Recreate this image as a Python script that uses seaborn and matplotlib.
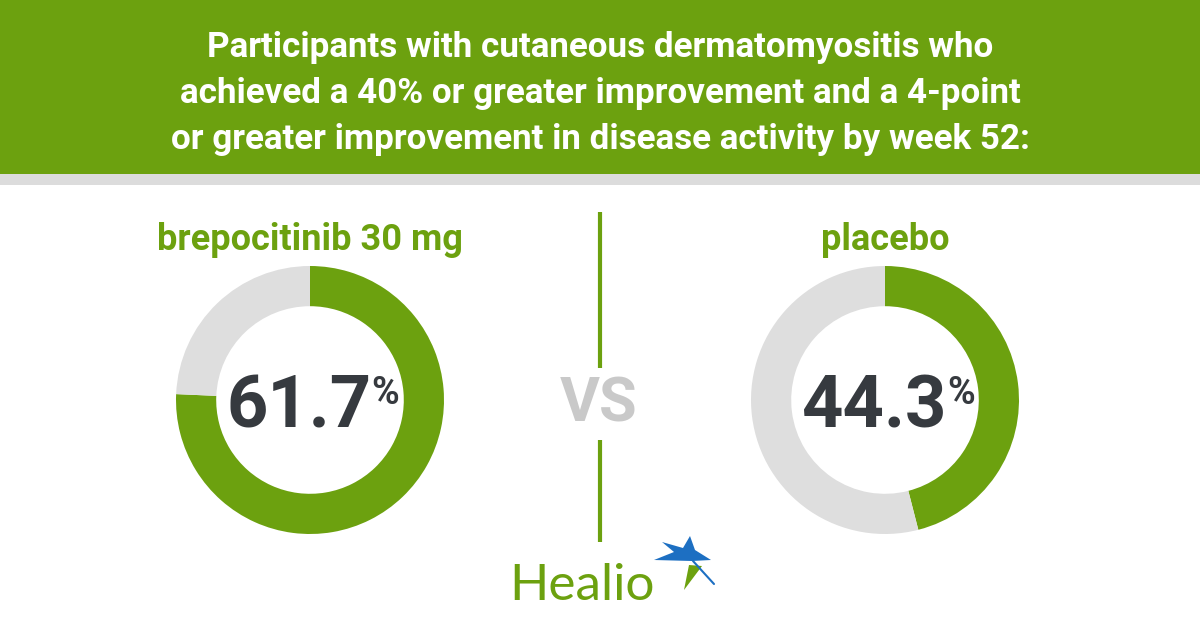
import matplotlib
matplotlib.use("Agg")
import matplotlib.pyplot as plt
import seaborn as sns
from matplotlib.patches import Rectangle, Polygon

# ---- data ----
groups = ["brepocitinib 30 mg", "placebo"]
achieved = [61.7, 44.3]            # printed values (%)
ring_shown = [75.7, 46.0]          # arc share as drawn in the graphic (%)
title_lines = [
    "Participants with cutaneous dermatomyositis who",
    "achieved a 40% or greater improvement and a 4-point",
    "or greater improvement in disease activity by week 52:",
]

GREEN = "#6ca10f"
LIGHT = "#dedede"
DARK = "#363a3f"
VSGRAY = "#c9c9c9"
BLUE = "#1d6fc2"

sns.set_theme(style="white")
plt.rcParams["font.family"] = ["Roboto", "DejaVu Sans"]

W, H = 1200, 630
fig = plt.figure(figsize=(12, 6.3), dpi=100)
bg = fig.add_axes([0, 0, 1, 1])
bg.set_xlim(0, W)
bg.set_ylim(H, 0)
bg.axis("off")

# header
bg.add_patch(Rectangle((0, 0), W, 174, color=GREEN, lw=0))
bg.add_patch(Rectangle((0, 174), W, 11, color="#dcdcdc", lw=0))
for i, line in enumerate(title_lines):
    bg.text(600, 47 + i * 46.5, line, ha="center", va="center", color="white",
            fontsize=25.2, fontweight="bold")

# divider and vs
bg.plot([600, 600], [212, 368], color=GREEN, lw=3, solid_capstyle="butt")
bg.plot([600, 600], [440, 542], color=GREEN, lw=3, solid_capstyle="butt")
bg.text(599, 404, "VS", ha="center", va="center", color=VSGRAY,
        fontsize=44, fontweight="bold")

fig.canvas.draw()
renderer = fig.canvas.get_renderer()

centers = [310, 885]
R = 134
for cx, name, val, shown in zip(centers, groups, achieved, ring_shown):
    ax = fig.add_axes([(cx - R) / W, (H - 400 - R) / H, 2 * R / W, 2 * R / H])
    ax.pie([shown, 100 - shown], colors=[GREEN, LIGHT], startangle=90,
           counterclock=False, radius=1.0,
           wedgeprops=dict(width=0.3, edgecolor="none", linewidth=0))
    ax.set_xlim(-1, 1)
    ax.set_ylim(-1, 1)
    ax.set_aspect("equal")
    ax.axis("off")
    bg.text(cx, 250, name, ha="center", va="baseline", color=GREEN,
            fontsize=26, fontweight="bold")
    num = bg.text(0, 428, f"{val:.1f}", ha="left", va="baseline", color=DARK,
                  fontsize=52, fontweight="bold")
    pct = bg.text(0, 404, "%", ha="left", va="baseline", color=DARK,
                  fontsize=27, fontweight="bold")
    wn = num.get_window_extent(renderer).width
    wp = pct.get_window_extent(renderer).width
    gap = 0
    total = wn + gap + wp
    left = cx + 3 - total / 2
    num.set_x(left)
    pct.set_x(left + wn + gap)

# Healio logo
bg.text(582, 600, "Healio", ha="center", va="baseline", color=GREEN,
        fontsize=37, family=["Lato", "DejaVu Sans"])
blue_star = [(654, 560), (674, 552), (662, 542), (683, 548), (690, 536),
             (695, 550), (711, 560), (692, 561)]
bg.add_patch(Polygon(blue_star, closed=True, color=BLUE, lw=0))
bg.add_patch(Polygon([(689, 565), (702, 566), (684, 590)], closed=True,
                     color=GREEN, lw=0))
bg.plot([693, 714], [561, 584], color=BLUE, lw=1.5)

fig.savefig("out.png", dpi=100)
